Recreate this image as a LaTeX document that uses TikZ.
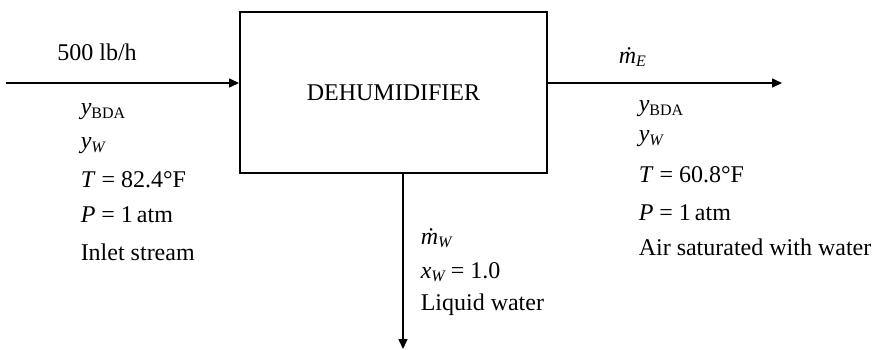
\documentclass[tikz,border=0pt]{standalone}
\usepackage{fontspec}
\setmainfont{Liberation Serif}
\usetikzlibrary{arrows.meta,positioning}
\newcommand{\lo}[1]{\textsubscript{#1}}

\begin{document}
\begin{tikzpicture}[x=0.5pt,y=-0.5pt,>={Triangle[length=5pt,width=4.5pt]},line width=0.75pt,
    every node/.style={font=\fontsize{12}{14}\selectfont},
    lbl/.style={anchor=west,inner sep=0pt}]
  \useasboundingbox (0,0) rectangle (872,349);
  % unit
  \node[draw,line width=1pt,minimum width=153.5pt,minimum height=80.5pt,inner sep=0pt] (dehum) at (393.5,92.5) {DEHUMIDIFIER};
  \coordinate (feed) at (6,83);
  \coordinate (exit) at (782,83);
  \coordinate (drain) at (403,349);
  \draw[->] (feed) -- (feed -| dehum.west);
  \draw[->] (exit -| dehum.east) -- (exit);
  \draw[->] (dehum.south -| drain) -- (drain);
  % inlet
  \node (rate) at (97,52) {500 lb/h};
  \node[lbl] (inBDA) at (80,112) {\textit{y}\lo{BDA}};
  \node[lbl] (inW) at (80,146) {\textit{y}\lo{\textit{W}}};
  \node[lbl] (inT) at (80,180) {\textit{T} = 82.4°F};
  \node[lbl] (inP) at (80,215) {\textit{P} = 1\,atm};
  \node[lbl] (inName) at (80,252) {Inlet stream};
  % exit
  \node[lbl] (mE) at (618,57) {\textit{ṁ}\lo{\textit{E}}};
  \node[lbl] (outBDA) at (638,109) {\textit{y}\lo{BDA}};
  \node[lbl] (outW) at (638,139) {\textit{y}\lo{\textit{W}}};
  \node[lbl] (outT) at (638,175) {\textit{T} = 60.8°F};
  \node[lbl] (outP) at (638,213) {\textit{P} = 1\,atm};
  \node[lbl] (outName) at (638,247) {Air saturated with water};
  % condensate
  \node[lbl] (mW) at (420,238) {\textit{ṁ}\lo{\textit{W}}};
  \node[lbl] (xW) at (420,272) {\textit{x}\lo{\textit{W}}\,= 1.0};
  \node[lbl] (wName) at (420,305) {Liquid water};
\end{tikzpicture}
\end{document}
